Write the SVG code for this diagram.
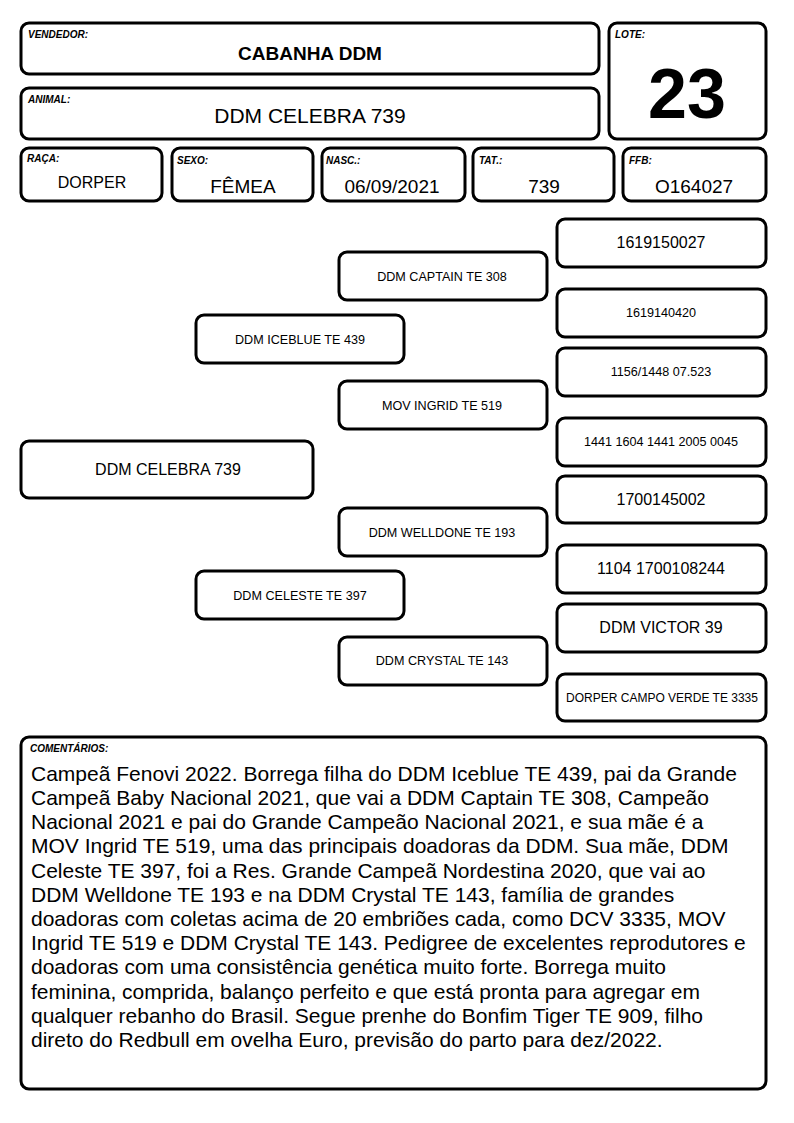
<svg xmlns="http://www.w3.org/2000/svg" width="794" height="1123" viewBox="0 0 794 1123">
<style>
.b{fill:#fff;stroke:#000;stroke-width:3}
.t{font-family:"Liberation Sans",Arial,sans-serif;fill:#000;text-anchor:middle}
.l{font-family:"Liberation Sans",Arial,sans-serif;font-size:10px;font-weight:bold;font-style:italic;fill:#000}
.s12{font-size:12.6px}
.s16{font-size:16px}
.s18{font-size:19px}
.c{font-family:"Liberation Sans",Arial,sans-serif;font-size:21px;fill:#000}
</style>
<rect width="794" height="1123" fill="#fff"/>
<g id="vendedor"><rect class="b" x="21" y="23" width="578" height="51" rx="8"/><text class="l" x="28" y="38">VENDEDOR:</text><text class="t" x="310" y="60" style="font-size:19px;font-weight:bold">CABANHA DDM</text></g>
<g id="animal"><rect class="b" x="21" y="88" width="578" height="51" rx="8"/><text class="l" x="28" y="103">ANIMAL:</text><text class="t" x="310" y="123" style="font-size:21px">DDM CELEBRA 739</text></g>
<g id="lote"><rect class="b" x="609" y="23" width="157" height="116" rx="8"/><text class="l" x="615" y="38">LOTE:</text><text class="t" x="687" y="118" style="font-size:70px;font-weight:bold">23</text></g>
<g id="raca"><rect class="b" x="21" y="148" width="141" height="53" rx="8"/><text class="l" x="27" y="162">RAÇA:</text><text class="t s16" x="92" y="188">DORPER</text></g>
<g id="sexo"><rect class="b" x="172" y="148" width="141" height="53" rx="8"/><text class="l" x="177" y="164">SEXO:</text><text class="t s18" x="243" y="193">FÊMEA</text></g>
<g id="nasc"><rect class="b" x="322" y="148" width="143" height="53" rx="8"/><text class="l" x="326" y="164">NASC.:</text><text class="t s18" x="392" y="193">06/09/2021</text></g>
<g id="tat"><rect class="b" x="473" y="148" width="141" height="53" rx="8"/><text class="l" x="479" y="164">TAT.:</text><text class="t s18" x="544" y="193">739</text></g>
<g id="ffb"><rect class="b" x="623" y="148" width="143" height="53" rx="8"/><text class="l" x="629" y="164">FFB:</text><text class="t s18" x="694" y="193">O164027</text></g>

<g id="p-animal"><rect class="b" x="21" y="441" width="292" height="57" rx="8"/><text class="t s16" x="168" y="475">DDM CELEBRA 739</text></g>
<g id="p-iceblue"><rect class="b" x="196" y="315" width="208" height="48" rx="8"/><text class="t s12" x="300" y="344">DDM ICEBLUE TE 439</text></g>
<g id="p-celeste"><rect class="b" x="196" y="571" width="208" height="48" rx="8"/><text class="t s12" x="300" y="600">DDM CELESTE TE 397</text></g>
<g id="p-captain"><rect class="b" x="339" y="252" width="208" height="48" rx="8"/><text class="t s12" x="442" y="281">DDM CAPTAIN TE 308</text></g>
<g id="p-ingrid"><rect class="b" x="339" y="381" width="208" height="48" rx="8"/><text class="t s12" x="442" y="410">MOV INGRID TE 519</text></g>
<g id="p-welldone"><rect class="b" x="339" y="508" width="208" height="48" rx="8"/><text class="t s12" x="442" y="537">DDM WELLDONE TE 193</text></g>
<g id="p-crystal"><rect class="b" x="339" y="637" width="208" height="48" rx="8"/><text class="t s12" x="442" y="665">DDM CRYSTAL TE 143</text></g>
<g id="p-g3-1"><rect class="b" x="557" y="219" width="209" height="48" rx="8"/><text class="t s16" x="661" y="248">1619150027</text></g>
<g id="p-g3-2"><rect class="b" x="557" y="289" width="209" height="48" rx="8"/><text class="t s12" x="661" y="317">1619140420</text></g>
<g id="p-g3-3"><rect class="b" x="557" y="348" width="209" height="48" rx="8"/><text class="t s12" x="661" y="376">1156/1448 07.523</text></g>
<g id="p-g3-4"><rect class="b" x="557" y="418" width="209" height="48" rx="8"/><text class="t s12" x="661" y="446">1441 1604 1441 2005 0045</text></g>
<g id="p-g3-5"><rect class="b" x="557" y="476" width="209" height="47" rx="8"/><text class="t s16" x="661" y="505">1700145002</text></g>
<g id="p-g3-6"><rect class="b" x="557" y="545" width="209" height="48" rx="8"/><text class="t s16" x="661" y="574">1104 1700108244</text></g>
<g id="p-g3-7"><rect class="b" x="557" y="604" width="209" height="48" rx="8"/><text class="t s16" x="661" y="633">DDM VICTOR 39</text></g>
<g id="p-g3-8"><rect class="b" x="557" y="674" width="209" height="47" rx="8"/><text class="t" x="662" y="702" style="font-size:12px">DORPER CAMPO VERDE TE 3335</text></g>
<g id="connectors"></g>

<g id="comentarios"><rect class="b" x="21" y="737" width="745" height="352" rx="8"/><text class="l" x="30" y="752">COMENTÁRIOS:</text>
<text class="c" x="31" y="781">Campeã Fenovi 2022. Borrega filha do DDM Iceblue TE 439, pai da Grande</text>
<text class="c" x="31" y="805">Campeã Baby Nacional 2021, que vai a DDM Captain TE 308, Campeão</text>
<text class="c" x="31" y="829">Nacional 2021 e pai do Grande Campeão Nacional 2021, e sua mãe é a</text>
<text class="c" x="31" y="853">MOV Ingrid TE 519, uma das principais doadoras da DDM. Sua mãe, DDM</text>
<text class="c" x="31" y="878">Celeste TE 397, foi a Res. Grande Campeã Nordestina 2020, que vai ao</text>
<text class="c" x="31" y="902">DDM Welldone TE 193 e na DDM Crystal TE 143, família de grandes</text>
<text class="c" x="31" y="926">doadoras com coletas acima de 20 embriões cada, como DCV 3335, MOV</text>
<text class="c" x="31" y="950">Ingrid TE 519 e DDM Crystal TE 143. Pedigree de excelentes reprodutores e</text>
<text class="c" x="31" y="974">doadoras com uma consistência genética muito forte. Borrega muito</text>
<text class="c" x="31" y="999">feminina, comprida, balanço perfeito e que está pronta para agregar em</text>
<text class="c" x="31" y="1023">qualquer rebanho do Brasil. Segue prenhe do Bonfim Tiger TE 909, filho</text>
<text class="c" x="31" y="1047">direto do Redbull em ovelha Euro, previsão do parto para dez/2022.</text>
</g>
</svg>
